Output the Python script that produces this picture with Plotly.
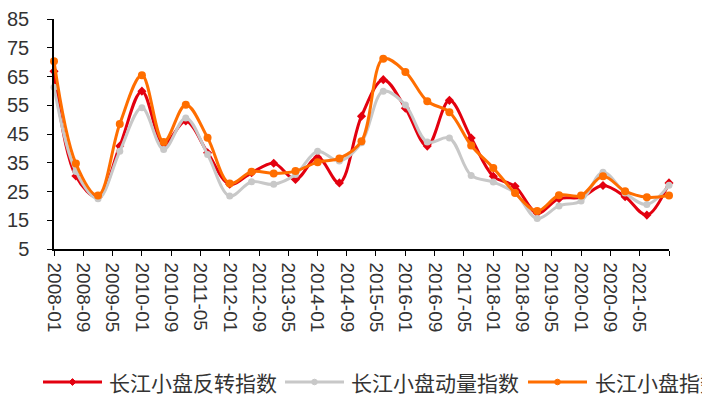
import plotly.graph_objects as go

# ---- data (semi-annual observations) ----
dates = [f"{y}-{m:02d}-01" for y in range(2008, 2022) for m in (1, 7)] + ["2022-01-01"]

reversal = [66.8, 30.4, 23.0, 40.8, 59.9, 41.5, 49.5, 38.5, 27.5, 31.5, 34.8, 29.2, 36.9, 28.0, 51.2,
            63.9, 54.0, 40.8, 56.7, 43.6, 30.3, 26.8, 17.5, 22.5, 23.0, 27.1, 23.2, 16.8, 28.0]
momentum = [61.3, 32.0, 22.5, 39.0, 54.1, 39.6, 50.6, 37.9, 23.4, 28.4, 27.5, 30.9, 39.0, 35.6, 42.0,
            59.9, 55.1, 42.2, 43.6, 30.6, 28.3, 24.5, 15.6, 20.0, 21.7, 31.7, 24.5, 20.5, 27.2]
smallcap = [70.3, 34.7, 23.6, 48.5, 65.4, 42.2, 55.2, 43.7, 27.8, 31.9, 31.3, 32.1, 35.2, 36.5, 42.5,
            71.2, 66.6, 56.4, 52.6, 41.0, 33.2, 24.5, 18.2, 23.7, 23.6, 30.3, 25.1, 23.0, 23.6]

series_names = ["长江小盘反转指数", "长江小盘动量指数", "长江小盘指数"]

tick_labels = ["2008-01", "2008-09", "2009-05", "2010-01", "2010-09", "2011-05", "2012-01",
               "2012-09", "2013-05", "2014-01", "2014-09", "2015-05", "2016-01", "2016-09",
               "2017-05", "2018-01", "2018-09", "2019-05", "2020-01", "2020-09", "2021-05"]
tick_vals = [f"{t}-01" for t in tick_labels] + ["2022-01-01"]
tick_text = tick_labels + [""]

y_ticks = [5, 15, 25, 35, 45, 55, 65, 75, 85]

# ---- styles ----
colors = ["#E3000F", "#C8C8C8", "#FF6E00"]
symbols = ["diamond", "circle", "circle"]
msizes = [7, 7, 8]
W, H = 702, 399
ML, MR, MT, MB = 54, 33, 19, 150
PW, PH = W - ML - MR, H - MT - MB

fig = go.Figure()
for name, vals, c, s, ms in zip(series_names, [reversal, momentum, smallcap], colors, symbols, msizes):
    fig.add_trace(go.Scatter(
        x=dates, y=vals, name=name, mode="lines+markers",
        line=dict(color=c, width=3, shape="spline", smoothing=1.0),
        marker=dict(color=c, symbol=s, size=ms),
        cliponaxis=False, showlegend=False,
    ))

# ---- manual legend (bottom, overflowing the right edge like the original) ----
def px(xp):
    return (xp - ML) / PW

def py(yp):
    return (H - MB - yp) / PH

legend_y = 382
items = [(43, 107), (285, 349), (528, 593)]
shapes = []
annotations = []
for (lx, tx), name, c, s in zip(items, series_names, colors, symbols):
    shapes.append(dict(type="line", xref="paper", yref="paper",
                       x0=px(lx), x1=px(lx + 59), y0=py(legend_y), y1=py(legend_y),
                       line=dict(color=c, width=3)))
    cx = lx + 29.5
    r = 3.4
    if s == "diamond":
        path = (f"M{px(cx - r)},{py(legend_y)} L{px(cx)},{py(legend_y - r)} "
                f"L{px(cx + r)},{py(legend_y)} L{px(cx)},{py(legend_y + r)} Z")
        shapes.append(dict(type="path", xref="paper", yref="paper", path=path,
                           fillcolor=c, line=dict(color=c, width=1)))
    else:
        shapes.append(dict(type="circle", xref="paper", yref="paper",
                           x0=px(cx - 2.8), x1=px(cx + 2.8), y0=py(legend_y + 2.8), y1=py(legend_y - 2.8),
                           fillcolor=c, line=dict(color=c, width=1)))
    annotations.append(dict(text=name, xref="paper", yref="paper", x=px(tx), y=py(legend_y),
                            xanchor="left", yanchor="middle", showarrow=False,
                            font=dict(family="Noto Sans CJK SC", size=21, color="#333333")))

fig.update_layout(
    width=W, height=H, autosize=False,
    margin=dict(l=ML, r=MR, t=MT, b=MB, pad=0),
    paper_bgcolor="white", plot_bgcolor="white",
    shapes=shapes, annotations=annotations,
    showlegend=False,
    xaxis=dict(
        type="date", range=["2008-01-01", "2022-01-01"], automargin=False,
        tickmode="array", tickvals=tick_vals, ticktext=tick_text,
        tickangle=90, ticks="outside", ticklen=5, tickcolor="black", tickwidth=1,
        showline=True, linecolor="black", linewidth=1.5, showgrid=False, zeroline=False,
        tickfont=dict(family="Liberation Sans", size=19, color="#333333"),
        ticklabelstandoff=3,
    ),
    yaxis=dict(
        range=[5, 85], tickmode="array", tickvals=y_ticks, automargin=False,
        ticks="outside", ticklen=5, tickcolor="black", tickwidth=1,
        showline=True, linecolor="black", linewidth=1.5, showgrid=False, zeroline=False,
        tickfont=dict(family="Liberation Sans", size=20, color="#333333"),
        ticklabelstandoff=14,
    ),
)

fig.write_html(
    "out.html",
    config={"displayModeBar": False},
    post_script="document.body.style.margin='0px';document.body.style.overflow='hidden';",
)
